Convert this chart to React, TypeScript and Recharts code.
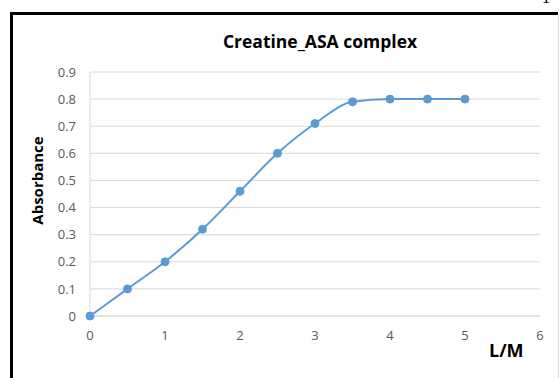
import React from 'react';
import { LineChart, Line, XAxis, YAxis, CartesianGrid } from 'recharts';

const lmRatio = [0, 0.5, 1, 1.5, 2, 2.5, 3, 3.5, 4, 4.5, 5];
const absorbance = [0, 0.1, 0.2, 0.32, 0.46, 0.6, 0.71, 0.79, 0.8, 0.8, 0.8];
const xTicks = [0, 1, 2, 3, 4, 5, 6];
const yTicks = [0, 0.1, 0.2, 0.3, 0.4, 0.5, 0.6, 0.7, 0.8, 0.9];

const titleText = 'Creatine_ASA complex';
const yLabel = 'Absorbance';
const xLabel = 'L/M';
const cornerMark = '1';

const data = lmRatio.map((x, i) => ({ x, y: absorbance[i] }));

const FONT = '"Open Sans", sans-serif';
const tickStyle = { fill: '#595959', fontSize: 13, fontFamily: FONT };

export default function App() {
  return (
    <div style={{ position: 'absolute', left: 0, top: 0, width: 560, height: 378, background: '#fff', overflow: 'hidden' }}>
      <LineChart
        width={560}
        height={378}
        data={data}
        margin={{ top: 72, right: 20, bottom: 32, left: 30 }}
        style={{ position: 'absolute', left: 0, top: 0 }}
      >
        <CartesianGrid horizontal vertical={false} stroke="#d9d9d9" strokeWidth={1} />
        <XAxis
          dataKey="x"
          type="number"
          domain={[0, 6]}
          ticks={xTicks}
          height={30}
          stroke="#d9d9d9"
          tickLine={false}
          tickSize={6}
          tickMargin={9}
          tick={tickStyle}
          interval={0}
        />
        <YAxis
          type="number"
          domain={[0, 0.9]}
          ticks={yTicks}
          width={60}
          stroke="#d9d9d9"
          tickLine={false}
          tickSize={6}
          tickMargin={8}
          tick={tickStyle}
          interval={0}
          tickFormatter={(v: number) => (v === 0 ? '0' : v.toFixed(1))}
        />
        <Line
          dataKey="y"
          type="monotone"
          stroke="#5b9bd5"
          strokeWidth={2}
          dot={{ r: 4, fill: '#5b9bd5', stroke: '#5b9bd5', strokeWidth: 1 }}
          activeDot={false}
          isAnimationActive={false}
        />
      </LineChart>
      <svg width={560} height={378} style={{ position: 'absolute', left: 0, top: 0, pointerEvents: 'none' }}>
        <rect x={10} y={12} width={548} height={3} fill="#000" />
        <rect x={10} y={12} width={3} height={366} fill="#000" />
        <rect x={558} y={15} width={1} height={363} fill="#d9d9d9" />
        <text x={546} y={3} textAnchor="middle" fontFamily="serif" fontSize={16} fill="#000">
          {cornerMark}
        </text>
        <text x={320} y={47.5} textAnchor="middle" fontFamily={FONT} fontWeight="bold" fontSize={17.5} fill="#000">
          {titleText}
        </text>
        <text
          transform="translate(42.5,180.5) rotate(-90)"
          textAnchor="middle"
          fontFamily={FONT}
          fontWeight="bold"
          fontSize={15}
          fill="#000"
        >
          {yLabel}
        </text>
        <text x={489} y={357} textAnchor="start" fontFamily={FONT} fontWeight="bold" fontSize={18} fill="#000">
          {xLabel}
        </text>
      </svg>
    </div>
  );
}
